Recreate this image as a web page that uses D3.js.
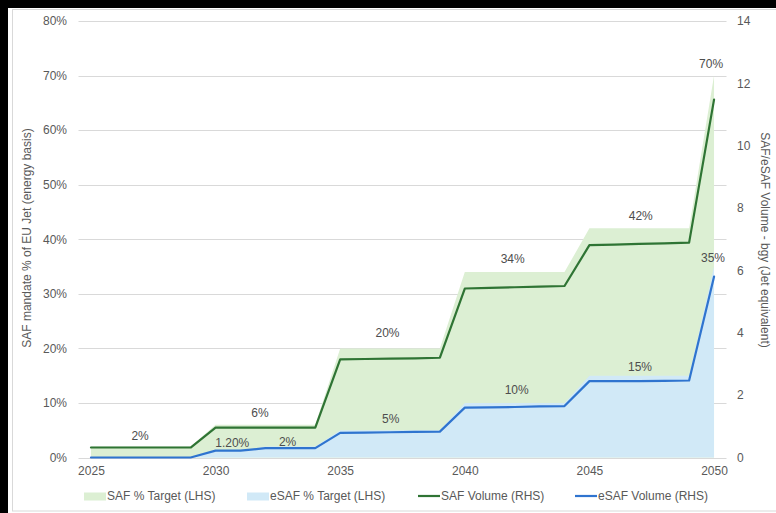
<!DOCTYPE html>
<html><head><meta charset="utf-8">
<script src="https://cdn.jsdelivr.net/npm/d3@7"></script>
<style>
html,body{margin:0;padding:0;background:#000;}
svg{display:block;font-family:"Liberation Sans",Arial,Helvetica,sans-serif;}
</style></head>
<body><svg id="chart" width="776" height="513"></svg>
<script>
const years = [2025,2026,2027,2028,2029,2030,2031,2032,2033,2034,2035,2036,2037,2038,2039,2040,2041,2042,2043,2044,2045,2046,2047,2048,2049,2050];
const safTarget = [2,2,2,2,2,6,6,6,6,6,20,20,20,20,20,34,34,34,34,34,42,42,42,42,42,70];
const esafTarget = [0,0,0,0,0,1.2,1.2,2,2,2,5,5,5,5,5,10,10,10,10,10,15,15,15,15,15,35];
const safVolume = [0.32,0.32,0.32,0.32,0.32,0.96,0.96,0.96,0.96,0.96,3.15,3.16,3.17,3.18,3.2,5.42,5.44,5.46,5.48,5.5,6.81,6.83,6.85,6.87,6.89,11.48];
const esafVolume = [0,0,0,0,0,0.22,0.22,0.3,0.3,0.3,0.79,0.8,0.81,0.82,0.83,1.6,1.61,1.62,1.64,1.65,2.45,2.45,2.45,2.46,2.47,5.8];
const leftTicks = [0,10,20,30,40,50,60,70,80];
const rightTicks = [0,2,4,6,8,10,12,14];
const xTickYears = [2025,2030,2035,2040,2045,2050];
const labelText = ["2%","6%","20%","34%","42%","70%","1.20%","2%","5%","10%","15%","35%"];
const labelYear = [2026.97,2031.78,2036.9,2041.92,2047.06,2049.88,2030.67,2032.89,2037.03,2042.08,2047.03,2049.96];
const labelPct = [3.94,8.15,22.94,36.4,44.25,72.2,2.71,2.9,7.05,12.37,16.6,36.6];
const legendNames = ["SAF % Target (LHS)","eSAF % Target (LHS)","SAF Volume (RHS)","eSAF Volume (RHS)"];

const greenFill = "#dcefd3", blueFill = "#d1e9f7", greenLine = "#2f7434", blueLine = "#2f74cf";
const textCol = "#595959", labelCol = "#4d4d4d", gridCol = "#d9d9d9";

const svg = d3.select("#chart");
svg.append("rect").attr("x",8).attr("y",8).attr("width",768).attr("height",505).attr("fill","#fff");
svg.append("rect").attr("x",12.5).attr("y",9.5).attr("width",780).attr("height",501.5)
  .attr("fill","#fff").attr("stroke","#d9d9d9");

const x = d3.scaleLinear().domain([2024.5,2050.5]).range([78.5,726.5]);
const yL = d3.scaleLinear().domain([0,80]).range([457.5,21]);
const yR = d3.scaleLinear().domain([0,14]).range([457.5,21]);

// gridlines
svg.append("g").selectAll("line").data(leftTicks).join("line")
  .attr("x1",x.range()[0]).attr("x2",x.range()[1])
  .attr("y1",d=>Math.round(yL(d))+0.5).attr("y2",d=>Math.round(yL(d))+0.5)
  .attr("stroke",gridCol).attr("stroke-width",1);

const idx = d3.range(years.length);
const areaG = d3.area().x(i=>x(years[i])).y0(yL(0)).y1(i=>yL(safTarget[i]));
const areaB = d3.area().x(i=>x(years[i])).y0(yL(0)).y1(i=>yL(esafTarget[i]));
svg.append("path").attr("d",areaG(idx)).attr("fill",greenFill);
svg.append("path").attr("d",areaB(idx)).attr("fill",blueFill);

const lineG = d3.line().x(i=>x(years[i])).y(i=>yR(safVolume[i]));
const lineB = d3.line().x(i=>x(years[i])).y(i=>yR(esafVolume[i]));
svg.append("path").attr("d",lineG(idx)).attr("fill","none").attr("stroke",greenLine)
  .attr("stroke-width",2.2).attr("stroke-linejoin","round").attr("stroke-linecap","round");
svg.append("path").attr("d",lineB(idx)).attr("fill","none").attr("stroke",blueLine)
  .attr("stroke-width",2.2).attr("stroke-linejoin","round").attr("stroke-linecap","round");

// axes
const axL = d3.axisLeft(yL).tickValues(leftTicks).tickFormat(d=>d+"%").tickSize(0).tickPadding(0);
const gL = svg.append("g").attr("transform","translate(67,0)").call(axL);
const axR = d3.axisRight(yR).tickValues(rightTicks).tickSize(0).tickPadding(0);
const gR = svg.append("g").attr("transform","translate(737,0)").call(axR);
const axX = d3.axisBottom(x).tickValues(xTickYears).tickFormat(d3.format("d")).tickSize(0).tickPadding(0);
const gX = svg.append("g").attr("transform","translate(0,466)").call(axX);
[gL,gR,gX].forEach(g=>{
  g.select(".domain").remove();
  g.selectAll("text").attr("fill",textCol).attr("font-size",12).attr("font-family","Liberation Sans, Arial, sans-serif");
});
gX.selectAll("text").attr("dy","0.71em");

// axis titles
svg.append("text").attr("transform","translate(31,238) rotate(-90)").attr("text-anchor","middle")
  .attr("fill",textCol).attr("font-size",12).text("SAF mandate % of EU Jet  (energy basis)");
svg.append("text").attr("transform","translate(761,240) rotate(90)").attr("text-anchor","middle")
  .attr("fill",textCol).attr("font-size",12).text("SAF/eSAF Volume - bgy (Jet equivalent)");

// data labels
svg.append("g").selectAll("text").data(labelText).join("text")
  .attr("x",(d,i)=>x(labelYear[i])).attr("y",(d,i)=>yL(labelPct[i]))
  .attr("dy","0.36em").attr("text-anchor","middle").attr("fill",labelCol).attr("font-size",12)
  .text(d=>d);

// legend
const legX = [84,247,418,575];
const leg = svg.append("g");
legendNames.forEach((name,i)=>{
  if(i<2){
    leg.append("rect").attr("x",legX[i]).attr("y",492.5).attr("width",22).attr("height",8)
      .attr("fill", i===0?greenFill:blueFill);
  } else {
    leg.append("line").attr("x1",legX[i]).attr("x2",legX[i]+22).attr("y1",496).attr("y2",496)
      .attr("stroke", i===2?greenLine:blueLine).attr("stroke-width",2.2);
  }
  leg.append("text").attr("x",legX[i]+23).attr("y",496).attr("dy","0.36em")
    .attr("fill",textCol).attr("font-size",12).text(name);
});
</script></body></html>
